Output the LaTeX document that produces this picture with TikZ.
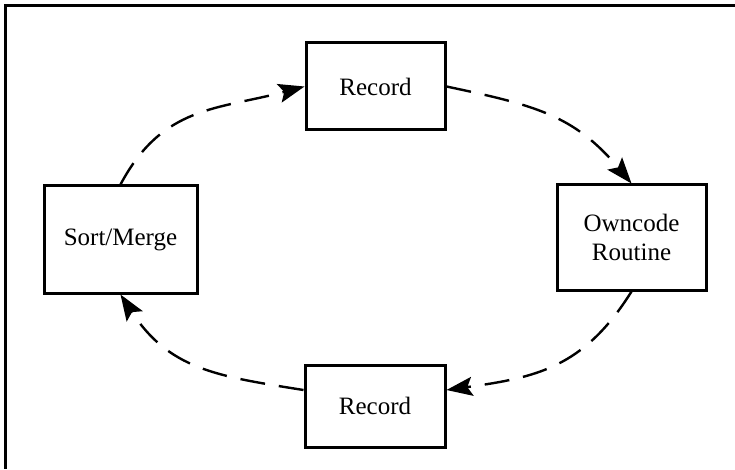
\documentclass[tikz,border=0pt]{standalone}
\usepackage{fontspec}
\setmainfont{Liberation Serif}
\usepackage{tikz}
\usetikzlibrary{positioning, arrows.meta}

\begin{document}
\begin{tikzpicture}[
        x=1pt, y=1pt,
        box/.style={draw, line width=3pt, inner sep=0pt, align=center, font=\fontsize{25}{29}\selectfont},
        flow/.style={line width=2.4pt, dash pattern=on 25pt off 14pt, looseness=1.1, -{Stealth[length=26pt, width=19pt, inset=5pt]}},
        frame/.style={line width=3pt},
    ]
    \useasboundingbox (0,0) rectangle (735,469);

    % Open frame round the cycle
    \coordinate (ftr) at (735,463.5);
    \coordinate (ftl) at (5.5,463.5);
    \coordinate (fbl) at (5.5,0);
    \draw[frame] (ftr) -- (ftl) -- (fbl);

    % Boxes
    \node[box, minimum width=139pt, minimum height=87pt] (rec1) at (375.5,382.5) {Record};
    \node[box, minimum width=149pt, minimum height=105pt] (own) at (631.5,231.5) {Owncode\\Routine};
    \node[box, minimum width=140pt, minimum height=82pt] (rec2) at (375,63) {Record};
    \node[box, minimum width=153pt, minimum height=107pt] (sm) at (120.5,229.5) {Sort/Merge};

    % Dashed cycle
    \draw[flow] (sm.north) to[out=62, in=195] (rec1.west);
    \draw[flow] (rec1.east) to[out=-12, in=130] (own.north);
    \draw[flow] (own.south) to[out=-122, in=8] ([yshift=16pt]rec2.east);
    \draw[flow] ([yshift=16pt]rec2.west) to[out=171, in=-57] (sm.south);

\end{tikzpicture}
\end{document}
